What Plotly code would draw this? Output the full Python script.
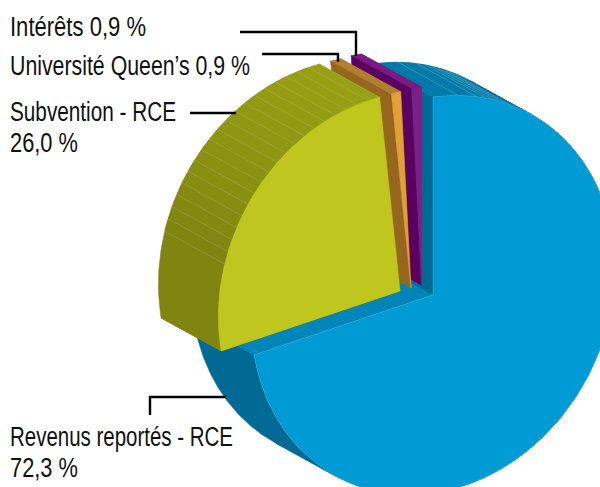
import json
import numpy as np
import plotly.graph_objects as go

labels = ["Revenus reportés - RCE", "Subvention - RCE", "Université Queen’s", "Intérêts"]
values = [72.3, 26.0, 0.9, 0.9]
value_text = ["72,3 %", "26,0 %", "0,9 %", "0,9 %"]

# projection of the pie's unit disc on the page
U = np.array([181.6, -26.0])
V = np.array([0.0, -198.0])
DEPTH = np.array([-60.0, -33.0])
APEX = [(433, 295), (400, 291), (411, 288), (421.5, 285)]
STEPS = [90, 26, 1, 1]
FRONT = ["#009AD5", "#BFC71F", "#E0A034", "#7D1F86"]
CUT = ["#006A94", "#7F8510", "#96661E", "#5B0060"]
WALL_TOP = ["#007BA9", "#98A014", "#B0802E", "#7B1A80"]
WALL_LOW = ["#006A94", "#7F8510", "#B0802E", "#7B1A80"]
BLUE_LINES = [0, 8, 14, 17, 19, 21, 23, 25]
EDGE = "rgba(255,255,255,0.2)"

fig = go.Figure()


def poly(pts, color, line=None, width=0.6):
    pts = np.array(pts)
    fig.add_trace(go.Scatter(
        x=np.r_[pts[:, 0], pts[0, 0]], y=np.r_[pts[:, 1], pts[0, 1]],
        mode="lines", fill="toself", fillcolor=color,
        line=dict(color=line or color, width=width),
        hoverinfo="skip", showlegend=False))


def seg(p, q, color=EDGE, width=0.7):
    fig.add_trace(go.Scatter(x=[p[0], q[0]], y=[p[1], q[1]], mode="lines",
                             line=dict(color=color, width=width),
                             hoverinfo="skip", showlegend=False))


def pt(c, deg):
    t = np.radians(deg)
    return np.array(c, float) + U * np.sin(t) + V * np.cos(t)


def cross(a, b):
    return a[0] * b[1] - a[1] * b[0]


bounds = np.r_[0, np.cumsum(values)] / sum(values) * 360
bounds[-1] = 360
# where the extrusion is tangent to the rim: the wall folds over there
tangent = np.degrees(np.arctan(cross(U, DEPTH) / cross(V, DEPTH))) % 180
folds = [tangent, tangent + 180]


def mix(a, b, f):
    ca = np.array([int(a[i:i + 2], 16) for i in (1, 3, 5)])
    cb = np.array([int(b[i:i + 2], 16) for i in (1, 3, 5)])
    return "rgb(%d,%d,%d)" % tuple(ca + (cb - ca) * f)


def slice_(i):
    c, a0, a1 = np.array(APEX[i], float), bounds[i], bounds[i + 1]
    edges = np.linspace(a0, a1, STEPS[i] + 1)
    # whole bands first, so the facets above them leave no seams
    stops = [a0] + [a for a in folds if a0 < a < a1] + [a1]
    for s0, s1 in zip(stops[:-1], stops[1:]):
        fine = [pt(c, a) for a in np.linspace(s0, s1, 120)]
        poly(fine + [p + DEPTH for p in fine[::-1]], WALL_LOW[i])
    for j in range(len(edges) - 1):
        p, q = pt(c, edges[j]), pt(c, edges[j + 1])
        f = np.clip(((p[1] + q[1]) / 2 - 100) / 160, 0, 1)
        if f < 1:
            poly([p, q, q + DEPTH, p + DEPTH], mix(WALL_TOP[i], WALL_LOW[i], f), width=0.3)
    if i == 0:
        for a in BLUE_LINES:
            p = pt(c, a)
            seg(p, p + DEPTH, "rgba(255,255,255,0.28)")
    if i == 1:
        for a in edges:
            p = pt(c, a)
            if p[1] < 272:
                seg(p, p + DEPTH)
    if i == 0:
        poly([c, pt(c, a1), pt(c, a1) + DEPTH, c + DEPTH], "#0085B8")
    poly([c, pt(c, a0), pt(c, a0) + DEPTH, c + DEPTH], CUT[i])
    arc = [pt(c, a) for a in np.linspace(a0, a1, 240 if i == 0 else 80)]
    poly([c] + arc, FRONT[i], line="#33AEDD" if i == 0 else None)


for i in [0, 3, 2, 1]:
    slice_(i)

leaders = [
    [(240, 32), (356, 32), (356, 56)],
    [(262, 54), (338, 54), (338, 62)],
    [(190, 113), (236, 113)],
    [(150, 415), (150, 397), (226, 397)],
]
for l in leaders:
    fig.add_trace(go.Scatter(x=[p[0] for p in l], y=[p[1] for p in l], mode="lines",
                             line=dict(color="#000000", width=2.4), hoverinfo="skip", showlegend=False))

texts = [f"{labels[3]} {value_text[3]}", f"{labels[2]} {value_text[2]}", labels[1],
         value_text[1], labels[0], value_text[0]]
text_y = [29, 68.5, 114.5, 145.5, 439.5, 470.5]
text_w = [136, 240, 166, 68, 223, 68]
fig.add_trace(go.Scatter(x=[10] * len(texts), y=text_y, text=texts, mode="text",
                         textposition="middle right", hoverinfo="skip", showlegend=False,
                         textfont=dict(family="Liberation Sans", size=27, color="#111111")))

fig.update_layout(
    width=600, height=487, margin=dict(l=0, r=0, t=0, b=0),
    paper_bgcolor="white", plot_bgcolor="white", showlegend=False,
    xaxis=dict(range=[0, 600], visible=False, fixedrange=True),
    yaxis=dict(range=[487, 0], visible=False, fixedrange=True),
)
post = """
document.body.style.margin = '0';
var w = %s;
document.querySelectorAll('.textpoint text').forEach(function (t, i) {
  t.setAttribute('textLength', w[i]);
  t.setAttribute('lengthAdjust', 'spacingAndGlyphs');
});
""" % json.dumps(text_w)
fig.write_html("out.html", config={"displayModeBar": False}, post_script=post)
